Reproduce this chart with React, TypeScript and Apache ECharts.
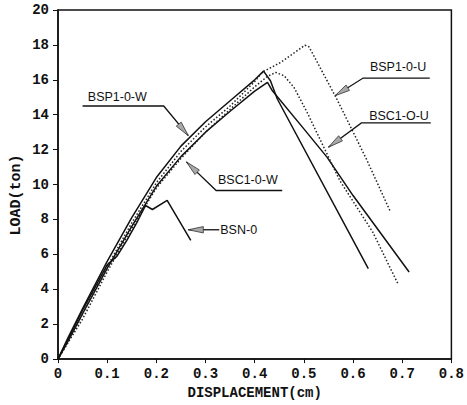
import React, { useEffect, useRef } from "react";
import * as echarts from "echarts";

// Load–displacement curves (displacement cm, load ton)
const bspW = [[0,0],[0.02,1.2],[0.05,2.9],[0.1,5.6],[0.15,8.1],[0.2,10.4],[0.25,12.2],[0.3,13.6],[0.35,14.8],[0.4,16.0],[0.418,16.5],[0.432,15.95],[0.446,14.9],[0.631,5.18]];
const bscW = [[0,0],[0.02,1.0],[0.05,2.6],[0.1,5.2],[0.15,7.6],[0.2,9.9],[0.25,11.6],[0.3,13.0],[0.35,14.2],[0.4,15.35],[0.426,15.85],[0.436,15.37],[0.5,13.19],[0.547,11.57],[0.6,9.37],[0.714,4.99]];
const bspU = [[0,0],[0.03,1.5],[0.05,2.6],[0.1,5.3],[0.15,7.8],[0.2,10.1],[0.25,11.9],[0.3,13.3],[0.35,14.5],[0.4,15.9],[0.416,16.45],[0.453,17.0],[0.486,17.66],[0.502,17.98],[0.51,17.9],[0.516,17.6],[0.567,14.9],[0.627,11.47],[0.676,8.44]];
const bscU = [[0,0],[0.05,2.3],[0.1,5.0],[0.15,7.5],[0.2,9.8],[0.25,11.5],[0.3,13.0],[0.35,14.3],[0.4,15.6],[0.426,16.2],[0.443,16.42],[0.46,16.23],[0.48,15.56],[0.5065,14.14],[0.573,10.23],[0.64,7.28],[0.691,4.33]];
const bsn = [[0,0],[0.05,2.8],[0.1,5.4],[0.12,5.9],[0.14,6.8],[0.16,7.8],[0.178,8.8],[0.192,8.57],[0.222,9.09],[0.27,6.8]];

const xTicks = [0, 0.1, 0.2, 0.3, 0.4, 0.5, 0.6, 0.7, 0.8];
const yTicks = [0, 2, 4, 6, 8, 10, 12, 14, 16, 18, 20];

// Annotation anchors in data units
const annotations = [
  { label: "BSP1-0-W", text: [0.1206, 15.0], align: "center", line: [[0.05, 14.5], [0.215, 14.5], [0.265, 12.8]] },
  { label: "BSC1-0-W", text: [0.386, 10.27], align: "center", line: [[0.456, 9.66], [0.3216, 9.66], [0.261, 11.3]] },
  { label: "BSN-0", text: [0.33, 7.41], align: "left", line: [[0.328, 7.41], [0.265, 7.41]] },
  { label: "BSP1-0-U", text: [0.6915, 16.71], align: "center", line: [[0.756, 16.1], [0.6205, 16.1], [0.5634, 15.09]] },
  { label: "BSC1-O-U", text: [0.6935, 13.94], align: "center", line: [[0.758, 13.53], [0.617, 13.53], [0.55, 12.14]] },
];

const mono = '"Liberation Mono", "DejaVu Sans Mono", monospace';
const sans = '"Liberation Sans", Arial, sans-serif';

export default function App() {
  const ref = useRef<HTMLDivElement>(null);
  useEffect(() => {
    document.body.style.margin = "0";
    const chart = echarts.init(ref.current!, null, { renderer: "svg" });
    const solid = (name: string, data: number[][]) => ({
      name, type: "line", data, symbol: "none", smooth: false,
      lineStyle: { color: "#111", width: 1.5, type: "solid" },
    });
    const dotted = (name: string, data: number[][]) => ({
      name, type: "line", data, symbol: "none", smooth: false,
      lineStyle: { color: "#222", width: 1.5, type: [1.5, 2] },
    });
    chart.setOption({
      animation: false,
      backgroundColor: "#fff",
      grid: { left: 58, right: 11, top: 10, bottom: 44, show: true, borderColor: "#111", borderWidth: 1.5 },
      xAxis: {
        type: "value", min: xTicks[0], max: xTicks[xTicks.length - 1], interval: 0.1,
        name: "DISPLACEMENT(cm)", nameLocation: "middle", nameGap: 24,
        nameTextStyle: { fontFamily: mono, fontSize: 14, fontWeight: "bold", color: "#111" },
        axisLine: { lineStyle: { color: "#111", width: 1.5 } },
        axisTick: { show: true, length: 4, inside: false, lineStyle: { color: "#111" } },
        axisLabel: { margin: 8, fontFamily: mono, fontSize: 14, fontWeight: "bold", color: "#111",
          formatter: (v: number) => (v === 0 ? "0" : v.toFixed(1)) },
        splitLine: { show: false },
      },
      yAxis: {
        type: "value", min: yTicks[0], max: yTicks[yTicks.length - 1], interval: 2,
        axisLine: { show: true, lineStyle: { color: "#111", width: 1.5 } },
        axisTick: { show: true, length: 5, inside: false, lineStyle: { color: "#111" } },
        axisLabel: { margin: 9, fontFamily: mono, fontSize: 14, fontWeight: "bold", color: "#111" },
        splitLine: { show: false },
      },
      series: [
        solid("BSP1-0-W", bspW),
        solid("BSC1-0-W", bscW),
        dotted("BSP1-0-U", bspU),
        dotted("BSC1-O-U", bscU),
        solid("BSN-0", bsn),
      ],
    });

    const px = (p: number[]) => chart.convertToPixel({ gridIndex: 0 }, p) as number[];
    const elements: any[] = [];
    annotations.forEach((a) => {
      const pts = a.line.map(px);
      elements.push({ type: "polyline", shape: { points: pts }, style: { stroke: "#111", lineWidth: 1.3, fill: null }, z: 100 });
      const tip = pts[pts.length - 1];
      const prev = pts[pts.length - 2];
      const dx = prev[0] - tip[0], dy = prev[1] - tip[1];
      const len = Math.hypot(dx, dy) || 1;
      const ux = dx / len, uy = dy / len;
      const L = 15, W = 3.2;
      const bx = tip[0] + ux * L, by = tip[1] + uy * L;
      elements.push({
        type: "polygon",
        shape: { points: [tip, [bx - uy * W, by + ux * W], [bx + uy * W, by - ux * W]] },
        style: { fill: "#a8a8a8", stroke: "#333", lineWidth: 0.8 }, z: 101,
      });
      const tp = px(a.text);
      elements.push({
        type: "text", x: tp[0], y: tp[1], z: 102,
        style: { text: a.label, fill: "#111", fontSize: 12.5, fontFamily: sans, align: a.align, verticalAlign: "middle" },
      });
    });
    elements.push({
      type: "text", x: 16, y: 195, rotation: Math.PI / 2, z: 102,
      style: { text: "LOAD(ton)", fill: "#111", fontSize: 15, fontWeight: "bold", fontFamily: mono, align: "center", verticalAlign: "middle" },
    });
    chart.setOption({ graphic: elements });
    return () => chart.dispose();
  }, []);
  return <div ref={ref} style={{ width: 467, height: 405 }} />;
}
